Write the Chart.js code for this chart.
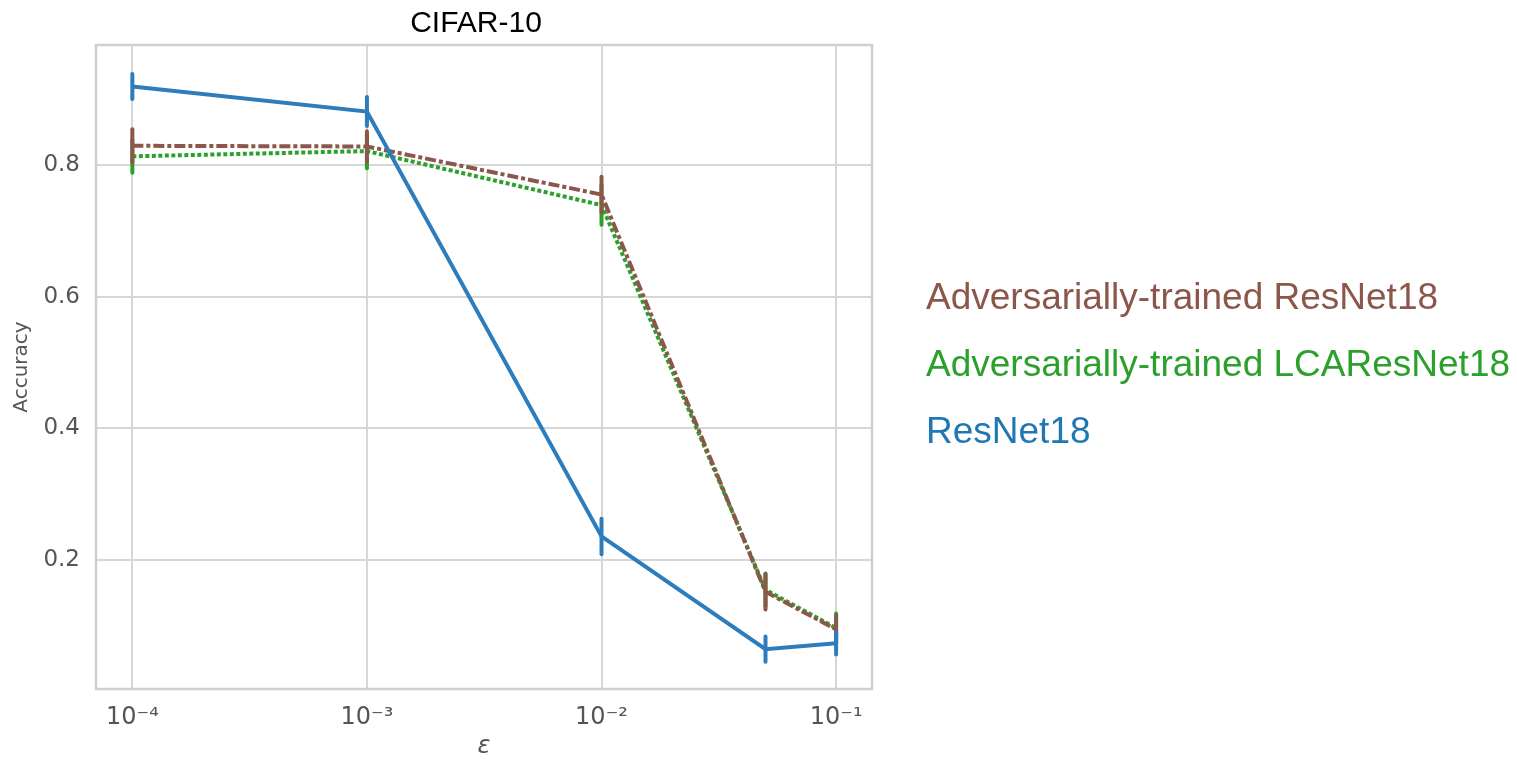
<!DOCTYPE html>
<html>
<head>
<meta charset="utf-8">
<script src="https://cdn.jsdelivr.net/npm/chart.js@4.4.1/dist/chart.umd.min.js"></script>
<style>
  html, body { margin: 0; padding: 0; background: #ffffff; }
  #wrap { width: 1517px; height: 759px; position: relative; }
</style>
</head>
<body>
<div id="wrap"><canvas id="c" width="1517" height="759"></canvas></div>
<script>
// ---- data ----
const epsilons = [1e-4, 1e-3, 1e-2, 0.05, 0.1];

const resnetAcc = [0.919, 0.881, 0.236, 0.065, 0.074];
const resnetErr = [0.019, 0.022, 0.027, 0.019, 0.017];

const advResnetAcc = [0.829, 0.828, 0.755, 0.152, 0.095];
const advResnetErr = [0.025, 0.023, 0.027, 0.027, 0.021];

const advLcaAcc = [0.813, 0.821, 0.739, 0.155, 0.097];
const advLcaErr = [0.025, 0.026, 0.030, 0.025, 0.022];

const xTickValues = [1e-4, 1e-3, 1e-2, 1e-1];
const xTickLabels = ['10\u207B\u2074', '10\u207B\u00B3', '10\u207B\u00B2', '10\u207B\u00B9'];
const yTickValues = [0.2, 0.4, 0.6, 0.8];
const yTickLabels = ['0.2', '0.4', '0.6', '0.8'];

const titleText = 'CIFAR-10';
const xLabel = '\u03B5';
const yLabel = 'Accuracy';
const legendOrder = ['Adversarially-trained ResNet18', 'Adversarially-trained LCAResNet18', 'ResNet18'];

// ---- styling ----
const COL_BLUE = '#2d7dbd', COL_BROWN = '#8c564b', COL_GREEN = '#2ca02c';
const TEXT_BLUE = '#1f77b4';
const GRID = '#d7d7d7';
const LW = 4;

function pts(xs, ys) { return xs.map((x, i) => ({ x: x, y: ys[i] })); }

const datasets = [
  { label: 'ResNet18', data: pts(epsilons, resnetAcc), errors: resnetErr,
    borderColor: COL_BLUE, textColor: TEXT_BLUE, borderWidth: LW, borderDash: [] },
  { label: 'Adversarially-trained ResNet18', data: pts(epsilons, advResnetAcc), errors: advResnetErr,
    borderColor: COL_BROWN, textColor: COL_BROWN, borderWidth: LW, borderDash: [11, 3, 4, 3] },
  { label: 'Adversarially-trained LCAResNet18', data: pts(epsilons, advLcaAcc), errors: advLcaErr,
    borderColor: COL_GREEN, textColor: COL_GREEN, borderWidth: LW, borderDash: [4, 2.5] }
].map(d => Object.assign({ pointRadius: 0, pointHoverRadius: 0, tension: 0, fill: false, borderCapStyle: 'butt' }, d));

const errorBarPlugin = {
  id: 'errorBars',
  afterDatasetDraw(chart, args) {
    const ds = chart.data.datasets[args.index];
    const xs = chart.scales.x, ys = chart.scales.y;
    const ctx = chart.ctx;
    ctx.save();
    ctx.strokeStyle = ds.borderColor;
    ctx.lineWidth = LW;
    ctx.lineCap = 'round';
    ds.data.forEach((p, i) => {
      const e = ds.errors[i];
      const px = xs.getPixelForValue(p.x);
      ctx.beginPath();
      ctx.moveTo(px, ys.getPixelForValue(p.y - e));
      ctx.lineTo(px, ys.getPixelForValue(p.y + e));
      ctx.stroke();
    });
    ctx.restore();
  }
};

const framePlugin = {
  id: 'frame',
  beforeDatasetsDraw(chart) {
    const a = chart.chartArea, ctx = chart.ctx;
    ctx.save();
    ctx.strokeStyle = '#d0d0d0';
    ctx.lineWidth = 2.5;
    ctx.strokeRect(a.left, a.top, a.right - a.left, a.bottom - a.top);
    ctx.restore();
  }
};

const textPlugin = {
  id: 'texts',
  afterDraw(chart) {
    const a = chart.chartArea, ctx = chart.ctx;
    ctx.save();
    // title
    ctx.fillStyle = '#000000';
    ctx.font = '30px "Liberation Sans", Arial, sans-serif';
    ctx.textAlign = 'center';
    ctx.textBaseline = 'middle';
    ctx.fillText(titleText, (a.left + a.right) / 2 - 8, 24);
    // legend
    ctx.font = '37px "Liberation Sans", Arial, sans-serif';
    ctx.textAlign = 'left';
    legendOrder.forEach((name, i) => {
      const ds = chart.data.datasets.find(d => d.label === name);
      ctx.fillStyle = ds.textColor;
      ctx.fillText(name, 926, 299 + i * 67);
    });
    ctx.restore();
  }
};

new Chart(document.getElementById('c'), {
  type: 'line',
  data: { datasets: datasets },
  plugins: [framePlugin, errorBarPlugin, textPlugin],
  options: {
    responsive: false,
    animation: false,
    devicePixelRatio: 1,
    layout: { padding: { left: 0, top: 45, right: 1517 - 872, bottom: 0 } },
    plugins: { legend: { display: false }, tooltip: { enabled: false }, title: { display: false } },
    scales: {
      x: {
        type: 'logarithmic',
        min: Math.pow(10, -4.153),
        max: Math.pow(10, -0.847),
        afterBuildTicks(scale) { scale.ticks = xTickValues.map(v => ({ value: v })); },
        afterFit(scale) { scale.height = 70; },
        ticks: {
          autoSkip: false, maxRotation: 0, padding: 14,
          color: '#555555',
          font: { family: '"DejaVu Sans"', size: 24 },
          callback(value) { const i = xTickValues.findIndex(v => Math.abs(v - value) / v < 1e-6); return i >= 0 ? xTickLabels[i] : ''; }
        },
        grid: { color: GRID, lineWidth: 2, drawTicks: false },
        border: { display: false },
        title: { display: true, text: xLabel, color: '#555555',
          font: { family: '"DejaVu Sans"', size: 24, style: 'italic', lineHeight: 1.0 }, padding: { top: 0, bottom: 0 } }
      },
      y: {
        type: 'linear',
        min: 0.0045,
        max: 0.982,
        afterBuildTicks(scale) { scale.ticks = yTickValues.map(v => ({ value: v })); },
        afterFit(scale) { scale.width = 96; },
        ticks: {
          padding: 16, color: '#555555',
          font: { family: '"DejaVu Sans"', size: 23 },
          callback(value) { const i = yTickValues.findIndex(v => Math.abs(v - value) < 1e-6); return i >= 0 ? yTickLabels[i] : ''; }
        },
        grid: { color: GRID, lineWidth: 2, drawTicks: false },
        border: { display: false },
        title: { display: true, text: yLabel, color: '#555555',
          font: { family: '"DejaVu Sans"', size: 20 }, padding: { top: 10, bottom: 0 } }
      }
    }
  }
});
</script>
</body>
</html>
